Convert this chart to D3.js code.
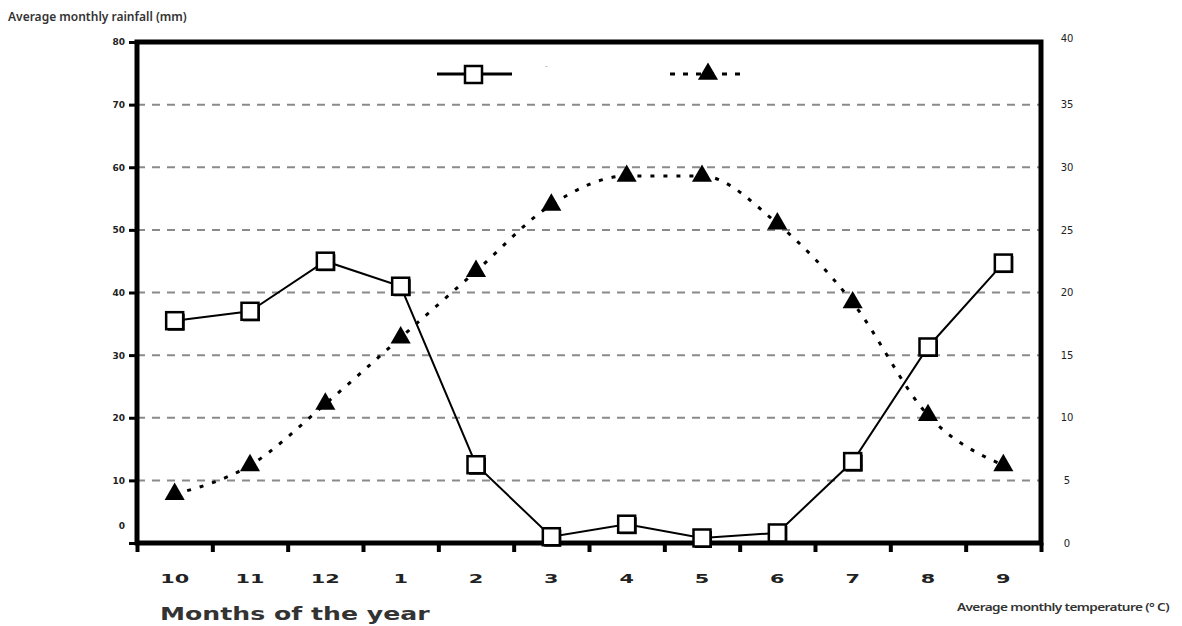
<!DOCTYPE html>
<html>
<head>
<meta charset="utf-8">
<script src="https://cdn.jsdelivr.net/npm/d3@7"></script>
<style>
  body { margin: 0; background: #fff; }
  svg { display: block; }
  .tick text { font-family: "DejaVu Sans", sans-serif; }
</style>
</head>
<body>
<div class="chart"></div>
<script>
// data
const months = ['10', '11', '12', '1', '2', '3', '4', '5', '6', '7', '8', '9'];
const rainfall = [35.5, 37, 45, 41, 12.5, 1, 3, 0.8, 1.6, 13, 31.3, 44.7];
const temperature = [3.9, 6.2, 11.1, 16.4, 21.7, 27, 29.3, 29.3, 25.5, 19.2, 10.2, 6.2];
const leftTicks = [0, 10, 20, 30, 40, 50, 60, 70, 80];
const rightTicks = [0, 5, 10, 15, 20, 25, 30, 35, 40];

const width = 1182, height = 626;
const plot = { left: 137, right: 1041, top: 42, bottom: 543 };

const svg = d3.select('.chart')
  .append('svg')
  .attr('width', width)
  .attr('height', height);

const x = d3.scaleBand()
  .domain(months)
  .range([plot.left, plot.right]);
const xEdge = d3.scaleLinear()
  .domain([0, months.length])
  .range([plot.left, plot.right]);
const yL = d3.scaleLinear().domain([0, 80]).range([plot.bottom, plot.top]);
const yR = d3.scaleLinear().domain([0, 40]).range([plot.bottom, plot.top]);
const cx = m => x(m) + x.bandwidth() / 2;

// dashed grid
svg.append('g')
  .selectAll('line')
  .data(leftTicks.filter(d => d > 0 && d < 80))
  .enter()
  .append('line')
  .attr('x1', plot.left)
  .attr('x2', plot.right)
  .attr('y1', d => yL(d))
  .attr('y2', d => yL(d))
  .style('stroke', '#8a8a8a')
  .style('stroke-width', 2)
  .style('stroke-dasharray', '8,7');

// left axis
const leftAxis = svg.append('g')
  .attr('transform', `translate(${plot.left},0)`)
  .call(d3.axisLeft(yL).tickValues(leftTicks).tickSize(8).tickPadding(4));
leftAxis.select('.domain').remove();
leftAxis.selectAll('.tick line').style('stroke', '#000').style('stroke-width', 3);
leftAxis.selectAll('.tick text')
  .style('font-size', '9px')
  .style('font-weight', 'bold')
  .style('fill', '#222')
  .attr('dy', d => d === 0 ? '-1.6em' : '0.32em');

// right axis labels
const rightAxis = svg.append('g')
  .attr('transform', `translate(${plot.right},0)`)
  .call(d3.axisRight(yR).tickValues(rightTicks).tickSize(0).tickPadding(26));
rightAxis.select('.domain').remove();
rightAxis.selectAll('.tick text')
  .style('font-size', '10px')
  .style('fill', '#222')
  .style('text-anchor', 'middle')
  .attr('dy', d => d === 40 ? '-0.1em' : '0.32em');

// bottom ticks at month boundaries
const bottomAxis = svg.append('g')
  .attr('transform', `translate(0,${plot.bottom})`)
  .call(d3.axisBottom(xEdge).tickValues(d3.range(months.length + 1)).tickSize(9).tickFormat(''));
bottomAxis.select('.domain').remove();
bottomAxis.selectAll('.tick line').style('stroke', '#000').style('stroke-width', 4);

// month labels (stretched wide like the original)
svg.append('g')
  .selectAll('text')
  .data(months)
  .enter()
  .append('text')
  .attr('transform', d => `translate(${cx(d)},583) scale(1.6,1)`)
  .attr('text-anchor', 'middle')
  .style('font-family', '"DejaVu Sans", sans-serif')
  .style('font-size', '13px')
  .style('font-weight', 'bold')
  .style('fill', '#222')
  .text(d => d);

// frame
svg.append('rect')
  .attr('x', plot.left)
  .attr('y', plot.top)
  .attr('width', plot.right - plot.left)
  .attr('height', plot.bottom - plot.top)
  .style('fill', 'none')
  .style('stroke', '#000')
  .style('stroke-width', 5);

// temperature (dotted, triangles)
const tempLine = d3.line()
  .x((d, i) => cx(months[i]))
  .y(d => yR(d))
  .curve(d3.curveMonotoneX);
svg.append('path')
  .attr('d', tempLine(temperature))
  .style('fill', 'none')
  .style('stroke', '#000')
  .style('stroke-width', 3)
  .style('stroke-dasharray', '4,9');

svg.append('g')
  .selectAll('path')
  .data(temperature)
  .enter()
  .append('path')
  .attr('transform', (d, i) => `translate(${cx(months[i])},${yR(d)})`)
  .attr('d', d3.symbol().type(d3.symbolTriangle).size(175))
  .style('fill', '#000');

// rainfall (solid, squares)
const rainLine = d3.line()
  .x((d, i) => cx(months[i]))
  .y(d => yL(d));
svg.append('path')
  .attr('d', rainLine(rainfall))
  .style('fill', 'none')
  .style('stroke', '#000')
  .style('stroke-width', 2);

const sq = 17;
const squares = svg.append('g')
  .selectAll('g')
  .data(rainfall)
  .enter()
  .append('g')
  .attr('transform', (d, i) => `translate(${cx(months[i])},${yL(d)})`);
squares.append('rect')
  .attr('x', -sq / 2 + 1.5)
  .attr('y', -sq / 2 + 1.5)
  .attr('width', sq)
  .attr('height', sq)
  .style('fill', '#000');
squares.append('rect')
  .attr('x', -sq / 2)
  .attr('y', -sq / 2)
  .attr('width', sq)
  .attr('height', sq)
  .style('fill', '#fff')
  .style('stroke', '#000')
  .style('stroke-width', 2.5);

// legend
const legend = svg.append('g');
legend.append('line')
  .attr('x1', 437).attr('x2', 512).attr('y1', 74).attr('y2', 74)
  .style('stroke', '#000').style('stroke-width', 3);
legend.append('rect')
  .attr('x', 465).attr('y', 66).attr('width', 17).attr('height', 17)
  .style('fill', '#fff').style('stroke', '#000').style('stroke-width', 2.5);
legend.append('text')
  .attr('x', 545).attr('y', 69)
  .style('font-size', '8px').style('fill', '#999')
  .text('-');
legend.append('line')
  .attr('x1', 670).attr('x2', 740).attr('y1', 74).attr('y2', 74)
  .style('stroke', '#000').style('stroke-width', 3)
  .style('stroke-dasharray', '5,8');
legend.append('path')
  .attr('transform', 'translate(708,74)')
  .attr('d', d3.symbol().type(d3.symbolTriangle).size(175))
  .style('fill', '#000');

// axis titles
svg.append('text')
  .attr('x', 8).attr('y', 21)
  .style('font-family', '"Noto Sans", sans-serif')
  .style('font-size', '12px')
  .style('font-weight', '600')
  .style('fill', '#333')
  .text('Average monthly rainfall (mm)');

svg.append('text')
  .attr('transform', 'translate(160,620) scale(1.4,1)')
  .style('font-family', '"DejaVu Sans", sans-serif')
  .style('font-size', '18px')
  .style('font-weight', 'bold')
  .style('fill', '#333')
  .text('Months of the year');

svg.append('text')
  .attr('transform', 'translate(957,611) scale(1.24,1)')
  .style('font-family', '"Noto Sans", sans-serif')
  .style('font-size', '11px')
  .style('font-weight', '600')
  .style('letter-spacing', '-0.5px')
  .style('fill', '#333')
  .text('Average monthly temperature (° C)');
</script>
</body>
</html>
